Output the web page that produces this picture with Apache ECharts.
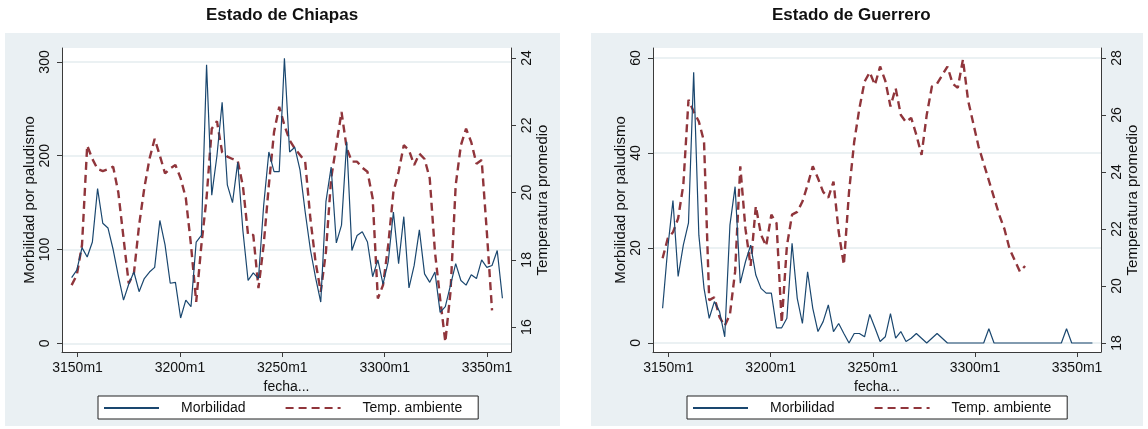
<!DOCTYPE html>
<html>
<head>
<meta charset="utf-8">
<script src="https://cdn.jsdelivr.net/npm/echarts@6/dist/echarts.min.js"></script>
<style>
  html, body { margin: 0; padding: 0; background: #fff; }
  #chart { width: 1148px; height: 429px; }
</style>
</head>
<body>
<div id="chart"></div>
<script>
// fecha axis: one point per month, labelled the way the source labels it
const fechaInicio = 3147.1;
const fechaPaso = 2.535;
const ticksFecha = [3150, 3200, 3250, 3300, 3350];

const chiapasMorbilidad = [
  70, 78, 102, 92, 108, 165, 128, 123, 100, 72, 46, 63, 76, 55, 69, 76, 81, 131, 105, 64,
  65, 27, 46, 39, 108, 115, 297, 158, 200, 257, 169, 150, 193, 120, 67, 75, 69, 147, 204, 183,
  183, 304, 204, 209, 185, 140, 100, 70, 44, 151, 188, 107, 126, 215, 99, 115, 119, 108, 71, 89,
  63, 87, 140, 85, 135, 59, 83, 121, 74, 65, 76, 33, 39, 62, 85, 67, 62, 73, 69, 89,
  81, 83, 99, 48
];
const chiapasTemp = [
  17.25, 17.55, 18.44, 21.4, 21.0, 20.7, 20.64, 20.7, 20.77, 20.0, 18.65, 17.3, 17.6, 19.03, 20.13, 21.0, 21.6, 21.1, 20.57, 20.72,
  20.82, 20.43, 19.84, 18.44, 16.75, 18.44, 19.84, 21.9, 22.12, 21.2, 21.07, 21.0, 20.94, 20.2, 18.74, 18.74, 17.16, 18.44, 20.22, 21.8,
  22.55, 22.0, 21.56, 21.31, 21.12, 20.92, 19.23, 17.94, 17.05, 18.24, 20.42, 21.41, 22.4, 21.32, 20.92, 20.92, 20.74, 20.62, 19.83, 16.85,
  17.25, 18.44, 20.02, 20.62, 21.41, 21.26, 20.82, 21.16, 21.0, 20.42, 18.24, 16.85, 15.56, 17.05, 20.22, 21.41, 21.9, 21.5, 20.86, 20.97,
  18.83, 16.5, null, null
];
const guerreroMorbilidad = [
  7.3, 20, 30, 14, 20.6, 25.3, 57, 22.7, 11.5, 5.2, 8.7, 6.6, 1.3, 24.8, 32.9, 12.6, 17.1, 20.6, 14.3, 11.5,
  10.5, 10.5, 3.2, 3.2, 5.2, 21, 9.4, 4.1, 15, 7.3, 2.4, 4.5, 8, 2.4, 4.1, 2, 0, 2, 2, 1.3,
  6, 3.2, 0.3, 1.3, 6.2, 1, 2.4, 0.3, 1, 2, 1, 0, 1, 2, 1, 0, 0, 0, 0, 0,
  0, 0, 0, 3, 0, 0, 0, 0, 0, 0, 0, 0, 0, 0, 0, 0, 0, 0, 3, 0,
  0, 0, 0, 0
];
const guerreroTemp = [
  20.97, 21.67, 21.88, 22.37, 23.54, 26.53, 26.12, 25.77, 25.07, 19.5, 19.6, 18.9, 18.6, 19.0, 20.5, 24.2, 22.0, 20.7, 22.8, 21.8,
  21.4, 22.5, 22.2, 18.7, 21.4, 22.5, 22.6, 22.96, 23.54, 24.2, 23.78, 23.3, 23.1, 23.66, 21.9, 20.74, 23.3, 25.06, 26.23, 27.17,
  27.5, 27.05, 27.7, 27.2, 26.3, 26.94, 26.0, 25.75, 25.9, 25.3, 24.6, 26.0, 27.0, 27.1, 27.4, 27.7, 27.1, 26.95, 27.95, 26.5,
  25.7, 24.9, 24.3, 23.7, 23.1, 22.5, 22.0, 21.3, 20.9, 20.5, 20.7, null, null, null, null, null, null, null, null, null,
  null, null, null, null
];

const ticksChiapasMorb = [0, 100, 200, 300];
const ticksChiapasTemp = [16, 18, 20, 22, 24];
const ticksGuerreroMorb = [0, 20, 40, 60];
const ticksGuerreroTemp = [18, 20, 22, 24, 26, 28];

const FONT = "'Liberation Sans', Arial, sans-serif";
const AXIS = "#3a3a3a";
const AZUL = "#1a476f";
const ROJO = "#90353b";

function pares(valores) {
  const out = [];
  valores.forEach(function (v, i) {
    if (v !== null) out.push([fechaInicio + i * fechaPaso, v]);
  });
  return out;
}

const chart = echarts.init(document.getElementById("chart"), null, { renderer: "canvas" });

const paneles = [
  { titulo: "Estado de Chiapas", tituloLeft: 206, bg: [5, 33, 555, 393], grid: { left: 62, right: 637 },
    morb: chiapasMorbilidad, temp: chiapasTemp,
    yL: [-9.3, 314.9], yR: [15.26, 24.3], tL: ticksChiapasMorb, tR: ticksChiapasTemp, legendLeft: 98 },
  { titulo: "Estado de Guerrero", tituloLeft: 772, bg: [591, 33, 552, 393], grid: { left: 653, right: 47 },
    morb: guerreroMorbilidad, temp: guerreroTemp,
    yL: [-1.9, 62.1], yR: [17.68, 28.35], tL: ticksGuerreroMorb, tR: ticksGuerreroTemp, legendLeft: 687 }
];

const option = {
  backgroundColor: "#fff",
  animation: false,
  textStyle: { fontFamily: FONT },
  graphic: paneles.map(function (p) {
    return { type: "rect", z: -10, shape: { x: p.bg[0], y: p.bg[1], width: p.bg[2], height: p.bg[3] },
      style: { fill: "#eaf0f3" } };
  }),
  title: paneles.map(function (p) {
    return { text: p.titulo, left: p.tituloLeft, top: 7, padding: 0,
      textStyle: { fontFamily: FONT, fontWeight: "bold", fontSize: 17, color: "#111" } };
  }),
  legend: paneles.map(function (p) {
    return {
      data: ["Morbilidad", "Temp. ambiente"],
      left: p.legendLeft, top: 396,
      orient: "horizontal",
      selectedMode: false,
      backgroundColor: "#fff",
      borderColor: "#222",
      borderWidth: 1,
      borderRadius: 0,
      padding: [5, 16, 4, 5],
      itemWidth: 55,
      itemHeight: 12,
      itemGap: 39,
      itemStyle: { opacity: 0 },
      textStyle: { fontFamily: FONT, fontSize: 14, color: "#111", padding: [0, 0, 0, 17] }
    };
  }),
  grid: paneles.map(function (p) {
    return { left: p.grid.left, right: p.grid.right, top: 48, bottom: 77,
      show: true, backgroundColor: "#fff", borderWidth: 0, containLabel: false };
  }),
  xAxis: paneles.map(function (p, k) {
    return {
      type: "value", gridIndex: k, min: 3142.4, max: 3361.7,
      name: "fecha...", nameLocation: "middle", nameGap: 21,
      nameTextStyle: { fontFamily: FONT, fontSize: 14, color: "#111" },
      axisLine: { show: true, onZero: false, lineStyle: { color: AXIS, width: 1 } },
      axisTick: { show: true, length: 5, lineStyle: { color: AXIS }, customValues: ticksFecha },
      axisLabel: { customValues: ticksFecha, margin: 9, fontFamily: FONT, fontSize: 14, color: "#111",
        formatter: function (v) { return v + "m1"; } },
      splitLine: { show: false }
    };
  }),
  yAxis: [].concat.apply([], paneles.map(function (p, k) {
    return [
      {
        type: "value", gridIndex: k, position: "left", min: p.yL[0], max: p.yL[1],
        name: "Morbilidad por paludismo", nameLocation: "middle", nameGap: 24, nameRotate: 90,
        nameTextStyle: { fontFamily: FONT, fontSize: 15, color: "#111" },
        axisLine: { show: true, onZero: false, lineStyle: { color: AXIS, width: 1 } },
        axisTick: { show: true, length: 5, lineStyle: { color: AXIS }, customValues: p.tL },
        axisLabel: { customValues: p.tL, rotate: 90, margin: 17, align: "center", verticalAlign: "middle",
          fontFamily: FONT, fontSize: 14, color: "#111" },
        splitLine: { show: true, customValues: p.tL, lineStyle: { color: "#e4ecef", width: 1.5 } }
      },
      {
        type: "value", gridIndex: k, position: "right", min: p.yR[0], max: p.yR[1],
        name: "Temperatura promedio", nameLocation: "middle", nameGap: 21, nameRotate: 90,
        nameTextStyle: { fontFamily: FONT, fontSize: 15, color: "#111" },
        axisLine: { show: true, onZero: false, lineStyle: { color: AXIS, width: 1 } },
        axisTick: { show: true, length: 5, lineStyle: { color: AXIS }, customValues: p.tR },
        axisLabel: { customValues: p.tR, rotate: 90, margin: 16, align: "center", verticalAlign: "middle",
          fontFamily: FONT, fontSize: 14, color: "#111" },
        splitLine: { show: false }
      }
    ];
  })),
  series: [].concat.apply([], paneles.map(function (p, k) {
    return [
      {
        name: "Morbilidad", type: "line", xAxisIndex: k, yAxisIndex: 2 * k,
        data: pares(p.morb), symbol: "none", z: 3,
        lineStyle: { color: AZUL, width: 1.2 }, itemStyle: { color: AZUL }
      },
      {
        name: "Temp. ambiente", type: "line", xAxisIndex: k, yAxisIndex: 2 * k + 1,
        data: pares(p.temp), symbol: "none", z: 2,
        lineStyle: { color: ROJO, width: 2.4, type: [8, 5] }, itemStyle: { color: ROJO }
      }
    ];
  }))
};

chart.setOption(option);
window.addEventListener("resize", function () { chart.resize(); });
</script>
</body>
</html>
